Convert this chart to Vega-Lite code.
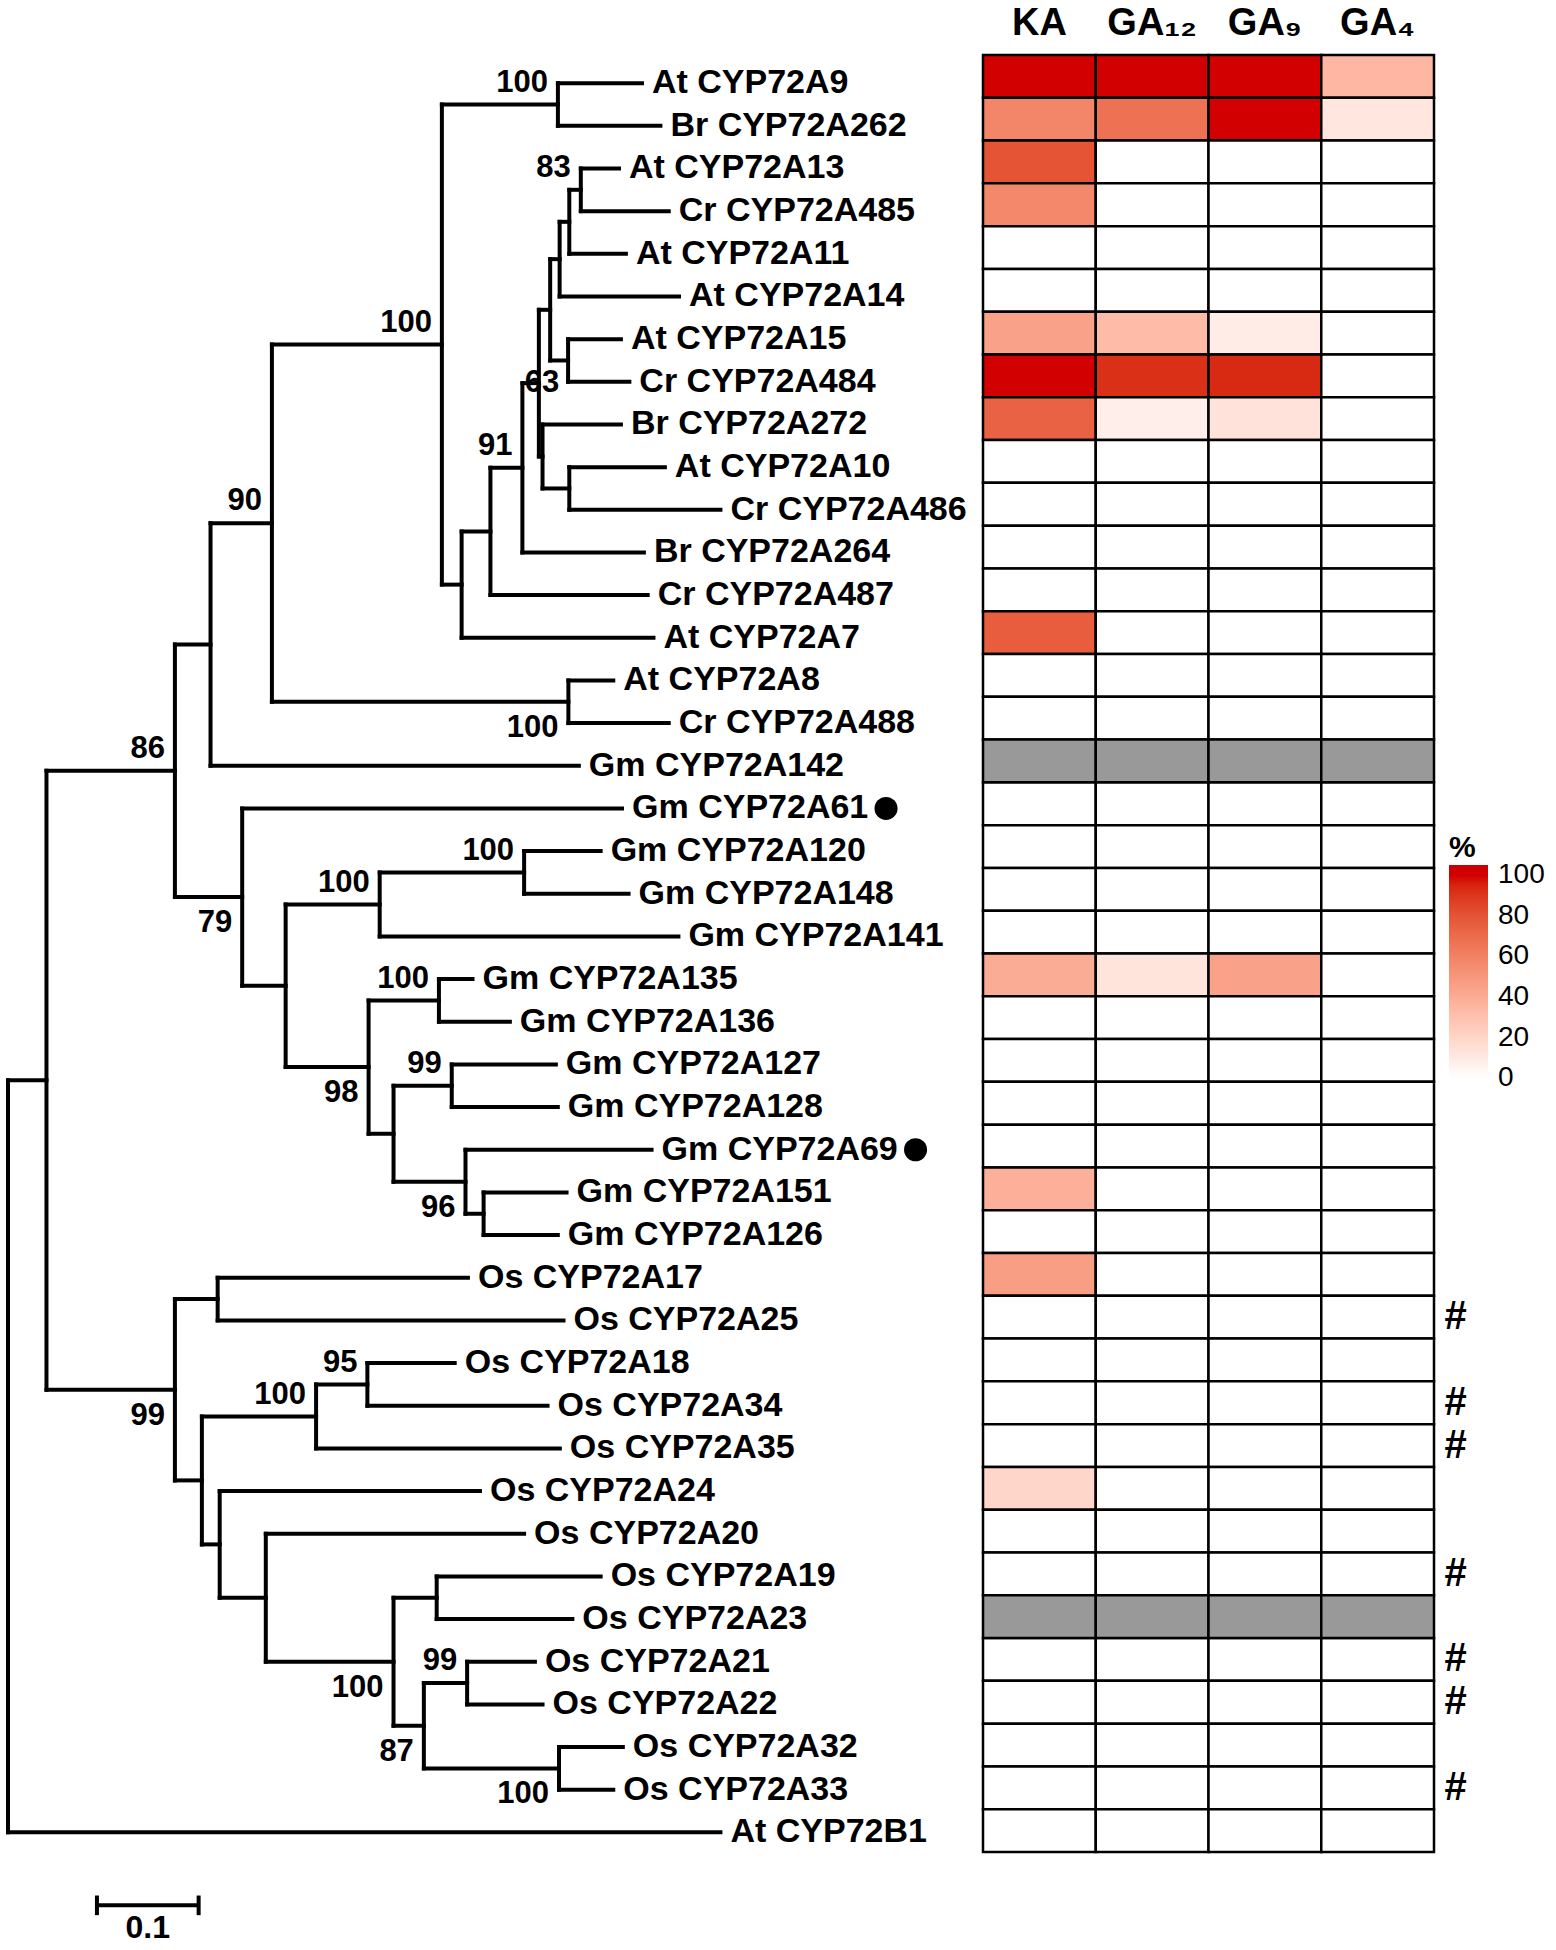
{
"$schema": "https://vega.github.io/schema/vega-lite/v6.json",
"padding": {"left": 5, "top": 4, "right": 0, "bottom": 0},
"autosize": {"type": "pad"},
"bounds": "flush",
"spacing": 59,
"config": {"view": {"stroke": null}, "font": "Liberation Sans"},
"datasets": {
"tree": [
{"n":"At CYP72A9","t":"leaf","x":0.6229,"y":1,"p":"J","px":0.5403},
{"n":"Br CYP72A262","t":"leaf","x":0.6410,"y":2,"p":"J","px":0.5403},
{"n":"At CYP72A13","t":"leaf","x":0.6003,"y":3,"p":"N83","px":0.5628},
{"n":"Cr CYP72A485","t":"leaf","x":0.6492,"y":4,"p":"N83","px":0.5628},
{"n":"At CYP72A11","t":"leaf","x":0.6071,"y":5,"p":"Q","px":0.5515},
{"n":"At CYP72A14","t":"leaf","x":0.6593,"y":6,"p":"S","px":0.5420},
{"n":"At CYP72A15","t":"leaf","x":0.6022,"y":7,"p":"U","px":0.5503},
{"n":"Cr CYP72A484","t":"leaf","x":0.6105,"y":8,"p":"U","px":0.5503},
{"n":"Br CYP72A272","t":"leaf","x":0.6022,"y":9,"p":"V","px":0.5252},
{"n":"At CYP72A10","t":"leaf","x":0.6454,"y":10,"p":"P","px":0.5515},
{"n":"Cr CYP72A486","t":"leaf","x":0.7000,"y":11,"p":"P","px":0.5515},
{"n":"Br CYP72A264","t":"leaf","x":0.6248,"y":12,"p":"M","px":0.5054},
{"n":"Cr CYP72A487","t":"leaf","x":0.6285,"y":13,"p":"L","px":0.4740},
{"n":"At CYP72A7","t":"leaf","x":0.6342,"y":14,"p":"K","px":0.4457},
{"n":"At CYP72A8","t":"leaf","x":0.5947,"y":15,"p":"H","px":0.5506},
{"n":"Cr CYP72A488","t":"leaf","x":0.6492,"y":16,"p":"H","px":0.5506},
{"n":"Gm CYP72A142","t":"leaf","x":0.5609,"y":17,"p":"E","px":0.1990},
{"n":"Gm CYP72A61","t":"leaf","x":0.6033,"y":18,"p":"W","px":0.2301,"dot":1},
{"n":"Gm CYP72A120","t":"leaf","x":0.5823,"y":19,"p":"AA","px":0.5071},
{"n":"Gm CYP72A148","t":"leaf","x":0.6097,"y":20,"p":"AA","px":0.5071},
{"n":"Gm CYP72A141","t":"leaf","x":0.6587,"y":21,"p":"Y","px":0.3652},
{"n":"Gm CYP72A135","t":"leaf","x":0.4564,"y":22,"p":"AB","px":0.4234},
{"n":"Gm CYP72A136","t":"leaf","x":0.4931,"y":23,"p":"AB","px":0.4234},
{"n":"Gm CYP72A127","t":"leaf","x":0.5383,"y":24,"p":"AD","px":0.4360},
{"n":"Gm CYP72A128","t":"leaf","x":0.5402,"y":25,"p":"AD","px":0.4360},
{"n":"Gm CYP72A69","t":"leaf","x":0.6323,"y":26,"p":"AE","px":0.4495,"dot":1},
{"n":"Gm CYP72A151","t":"leaf","x":0.5488,"y":27,"p":"AF","px":0.4673},
{"n":"Gm CYP72A126","t":"leaf","x":0.5402,"y":28,"p":"AF","px":0.4673},
{"n":"Os CYP72A17","t":"leaf","x":0.4519,"y":29,"p":"OS2","px":0.2060},
{"n":"Os CYP72A25","t":"leaf","x":0.5458,"y":30,"p":"OS2","px":0.2060},
{"n":"Os CYP72A18","t":"leaf","x":0.4389,"y":31,"p":"OS6","px":0.3531},
{"n":"Os CYP72A34","t":"leaf","x":0.5301,"y":32,"p":"OS6","px":0.3531},
{"n":"Os CYP72A35","t":"leaf","x":0.5422,"y":33,"p":"OS4","px":0.3027},
{"n":"Os CYP72A24","t":"leaf","x":0.4637,"y":34,"p":"OS5","px":0.2080},
{"n":"Os CYP72A20","t":"leaf","x":0.5071,"y":35,"p":"OS7","px":0.2533},
{"n":"Os CYP72A19","t":"leaf","x":0.5823,"y":36,"p":"OS9","px":0.4212},
{"n":"Os CYP72A23","t":"leaf","x":0.5545,"y":37,"p":"OS9","px":0.4212},
{"n":"Os CYP72A21","t":"leaf","x":0.5177,"y":38,"p":"OS11","px":0.4511},
{"n":"Os CYP72A22","t":"leaf","x":0.5252,"y":39,"p":"OS11","px":0.4511},
{"n":"Os CYP72A32","t":"leaf","x":0.6041,"y":40,"p":"OS12","px":0.5414},
{"n":"Os CYP72A33","t":"leaf","x":0.5947,"y":41,"p":"OS12","px":0.5414},
{"n":"At CYP72B1","t":"leaf","x":0.7000,"y":42,"p":"R","px":0},
{"n":"J","t":"node","x":0.5403,"y":1.5,"p":"G","px":0.4263,"b":"100","bp":"a"},
{"n":"N83","t":"node","x":0.5628,"y":3.5,"p":"Q","px":0.5515,"b":"83","bp":"a"},
{"n":"Q","t":"node","x":0.5515,"y":4.25,"p":"S","px":0.542},
{"n":"S","t":"node","x":0.542,"y":5.125,"p":"T","px":0.5327},
{"n":"U","t":"node","x":0.5503,"y":7.5,"p":"T","px":0.5327},
{"n":"T","t":"node","x":0.5327,"y":6.3125,"p":"N","px":0.5216},
{"n":"P","t":"node","x":0.5515,"y":10.5,"p":"V","px":0.5252},
{"n":"V","t":"node","x":0.5252,"y":9.75,"p":"N","px":0.5216},
{"n":"N","t":"node","x":0.5216,"y":8.0313,"p":"M","px":0.5054,"b":"63","bp":"m"},
{"n":"M","t":"node","x":0.5054,"y":10.0156,"p":"L","px":0.474,"b":"91","bp":"a"},
{"n":"L","t":"node","x":0.474,"y":11.5078,"p":"K","px":0.4457},
{"n":"K","t":"node","x":0.4457,"y":12.7539,"p":"G","px":0.4263},
{"n":"G","t":"node","x":0.4263,"y":7.127,"p":"F","px":0.2593,"b":"100","bp":"a"},
{"n":"H","t":"node","x":0.5506,"y":15.5,"p":"F","px":0.2593,"b":"100","bp":"b"},
{"n":"F","t":"node","x":0.2593,"y":11.3135,"p":"E","px":0.199,"b":"90","bp":"a"},
{"n":"E","t":"node","x":0.199,"y":14.1567,"p":"D","px":0.164},
{"n":"AA","t":"node","x":0.5071,"y":19.5,"p":"Y","px":0.3652,"b":"100","bp":"a"},
{"n":"Y","t":"node","x":0.3652,"y":20.25,"p":"X","px":0.2728,"b":"100","bp":"a"},
{"n":"AB","t":"node","x":0.4234,"y":22.5,"p":"Z","px":0.3543,"b":"100","bp":"a"},
{"n":"AD","t":"node","x":0.436,"y":24.5,"p":"AC","px":0.3788,"b":"99","bp":"a"},
{"n":"AF","t":"node","x":0.4673,"y":27.5,"p":"AE","px":0.4495},
{"n":"AE","t":"node","x":0.4495,"y":26.75,"p":"AC","px":0.3788,"b":"96","bp":"b"},
{"n":"AC","t":"node","x":0.3788,"y":25.625,"p":"Z","px":0.3543},
{"n":"Z","t":"node","x":0.3543,"y":24.0625,"p":"X","px":0.2728,"b":"98","bp":"b"},
{"n":"X","t":"node","x":0.2728,"y":22.1563,"p":"W","px":0.2301},
{"n":"W","t":"node","x":0.2301,"y":20.0781,"p":"D","px":0.164,"b":"79","bp":"b"},
{"n":"D","t":"node","x":0.164,"y":17.1174,"p":"I","px":0.0378,"b":"86","bp":"a"},
{"n":"OS2","t":"node","x":0.206,"y":29.5,"p":"OS1","px":0.164},
{"n":"OS6","t":"node","x":0.3531,"y":31.5,"p":"OS4","px":0.3027,"b":"95","bp":"a"},
{"n":"OS4","t":"node","x":0.3027,"y":32.25,"p":"OS3","px":0.1905,"b":"100","bp":"a"},
{"n":"OS9","t":"node","x":0.4212,"y":36.5,"p":"OS8","px":0.3788},
{"n":"OS11","t":"node","x":0.4511,"y":38.5,"p":"OS10","px":0.4086,"b":"99","bp":"a"},
{"n":"OS12","t":"node","x":0.5414,"y":40.5,"p":"OS10","px":0.4086,"b":"100","bp":"b"},
{"n":"OS10","t":"node","x":0.4086,"y":39.5,"p":"OS8","px":0.3788,"b":"87","bp":"b"},
{"n":"OS8","t":"node","x":0.3788,"y":38,"p":"OS7","px":0.2533,"b":"100","bp":"b"},
{"n":"OS7","t":"node","x":0.2533,"y":36.5,"p":"OS5","px":0.208},
{"n":"OS5","t":"node","x":0.208,"y":35.25,"p":"OS3","px":0.1905},
{"n":"OS3","t":"node","x":0.1905,"y":33.75,"p":"OS1","px":0.164},
{"n":"OS1","t":"node","x":0.164,"y":31.625,"p":"I","px":0.0378,"b":"99","bp":"b"},
{"n":"I","t":"node","x":0.0378,"y":24.3712,"p":"R","px":0}
],
"bar": [{"x":0.0874,"x2":0.1873,"xm":0.13735,"y":43.71,"ya":43.48,"yb":43.94,"label":"0.1"}],
"heat": [
{"i":1,"g":"At CYP72A9","KA":100,"GA₁₂":100,"GA₉":100,"GA₄":35},
{"i":2,"g":"Br CYP72A262","KA":58,"GA₁₂":67,"GA₉":100,"GA₄":12},
{"i":3,"g":"At CYP72A13","KA":80,"GA₁₂":0,"GA₉":0,"GA₄":0},
{"i":4,"g":"Cr CYP72A485","KA":57,"GA₁₂":0,"GA₉":0,"GA₄":0},
{"i":5,"g":"At CYP72A11","KA":0,"GA₁₂":0,"GA₉":0,"GA₄":0},
{"i":6,"g":"At CYP72A14","KA":0,"GA₁₂":0,"GA₉":0,"GA₄":0},
{"i":7,"g":"At CYP72A15","KA":45,"GA₁₂":33,"GA₉":9,"GA₄":0},
{"i":8,"g":"Cr CYP72A484","KA":100,"GA₁₂":92,"GA₉":94,"GA₄":0},
{"i":9,"g":"Br CYP72A272","KA":74,"GA₁₂":8,"GA₉":14,"GA₄":0},
{"i":10,"g":"At CYP72A10","KA":0,"GA₁₂":0,"GA₉":0,"GA₄":0},
{"i":11,"g":"Cr CYP72A486","KA":0,"GA₁₂":0,"GA₉":0,"GA₄":0},
{"i":12,"g":"Br CYP72A264","KA":0,"GA₁₂":0,"GA₉":0,"GA₄":0},
{"i":13,"g":"Cr CYP72A487","KA":0,"GA₁₂":0,"GA₉":0,"GA₄":0},
{"i":14,"g":"At CYP72A7","KA":76,"GA₁₂":0,"GA₉":0,"GA₄":0},
{"i":15,"g":"At CYP72A8","KA":0,"GA₁₂":0,"GA₉":0,"GA₄":0},
{"i":16,"g":"Cr CYP72A488","KA":0,"GA₁₂":0,"GA₉":0,"GA₄":0},
{"i":17,"g":"Gm CYP72A142","KA":null,"GA₁₂":null,"GA₉":null,"GA₄":null},
{"i":18,"g":"Gm CYP72A61","KA":0,"GA₁₂":0,"GA₉":0,"GA₄":0},
{"i":19,"g":"Gm CYP72A120","KA":0,"GA₁₂":0,"GA₉":0,"GA₄":0},
{"i":20,"g":"Gm CYP72A148","KA":0,"GA₁₂":0,"GA₉":0,"GA₄":0},
{"i":21,"g":"Gm CYP72A141","KA":0,"GA₁₂":0,"GA₉":0,"GA₄":0},
{"i":22,"g":"Gm CYP72A135","KA":40,"GA₁₂":13,"GA₉":45,"GA₄":0},
{"i":23,"g":"Gm CYP72A136","KA":0,"GA₁₂":0,"GA₉":0,"GA₄":0},
{"i":24,"g":"Gm CYP72A127","KA":0,"GA₁₂":0,"GA₉":0,"GA₄":0},
{"i":25,"g":"Gm CYP72A128","KA":0,"GA₁₂":0,"GA₉":0,"GA₄":0},
{"i":26,"g":"Gm CYP72A69","KA":0,"GA₁₂":0,"GA₉":0,"GA₄":0},
{"i":27,"g":"Gm CYP72A151","KA":38,"GA₁₂":0,"GA₉":0,"GA₄":0},
{"i":28,"g":"Gm CYP72A126","KA":0,"GA₁₂":0,"GA₉":0,"GA₄":0},
{"i":29,"g":"Os CYP72A17","KA":47,"GA₁₂":0,"GA₉":0,"GA₄":0},
{"i":30,"g":"Os CYP72A25","KA":0,"GA₁₂":0,"GA₉":0,"GA₄":0,"note":"#"},
{"i":31,"g":"Os CYP72A18","KA":0,"GA₁₂":0,"GA₉":0,"GA₄":0},
{"i":32,"g":"Os CYP72A34","KA":0,"GA₁₂":0,"GA₉":0,"GA₄":0,"note":"#"},
{"i":33,"g":"Os CYP72A35","KA":0,"GA₁₂":0,"GA₉":0,"GA₄":0,"note":"#"},
{"i":34,"g":"Os CYP72A24","KA":20,"GA₁₂":0,"GA₉":0,"GA₄":0},
{"i":35,"g":"Os CYP72A20","KA":0,"GA₁₂":0,"GA₉":0,"GA₄":0},
{"i":36,"g":"Os CYP72A19","KA":0,"GA₁₂":0,"GA₉":0,"GA₄":0,"note":"#"},
{"i":37,"g":"Os CYP72A23","KA":null,"GA₁₂":null,"GA₉":null,"GA₄":null},
{"i":38,"g":"Os CYP72A21","KA":0,"GA₁₂":0,"GA₉":0,"GA₄":0,"note":"#"},
{"i":39,"g":"Os CYP72A22","KA":0,"GA₁₂":0,"GA₉":0,"GA₄":0,"note":"#"},
{"i":40,"g":"Os CYP72A32","KA":0,"GA₁₂":0,"GA₉":0,"GA₄":0},
{"i":41,"g":"Os CYP72A33","KA":0,"GA₁₂":0,"GA₉":0,"GA₄":0,"note":"#"},
{"i":42,"g":"At CYP72B1","KA":0,"GA₁₂":0,"GA₉":0,"GA₄":0}
]
},
"hconcat": [
{
"width": 916,
"height": 1797,
"data": {"name": "tree"},
"layer": [
{
"transform": [{"filter": "datum.p != null"}],
"mark": {"type": "rule", "strokeWidth": 4, "color": "black", "strokeCap": "square"},
"encoding": {
"x": {"field": "px", "type": "quantitative", "scale": {"domain": [0, 0.9], "nice": false, "zero": false}, "axis": null},
"x2": {"field": "x"},
"y": {"field": "y", "type": "quantitative", "scale": {"domain": [0.34, 42.46], "reverse": true, "nice": false, "zero": false}, "axis": null}
}
},
{
"transform": [{"filter": "datum.p != null"}, {"aggregate": [{"op": "min", "field": "y", "as": "y1"}, {"op": "max", "field": "y", "as": "y2"}], "groupby": ["p", "px"]}],
"mark": {"type": "rule", "strokeWidth": 4, "color": "black", "strokeCap": "square"},
"encoding": {
"x": {"field": "px", "type": "quantitative", "axis": null},
"y": {"field": "y1", "type": "quantitative", "axis": null},
"y2": {"field": "y2"}
}
},
{
"transform": [{"filter": "datum.t === 'leaf'"}],
"mark": {"type": "text", "align": "left", "baseline": "middle", "dx": 10, "fontSize": 34, "fontWeight": "bold", "font": "Liberation Sans", "color": "black"},
"encoding": {
"x": {"field": "x", "type": "quantitative", "axis": null},
"y": {"field": "y", "type": "quantitative", "axis": null},
"text": {"field": "n"}
}
},
{
"transform": [{"filter": "datum.bp === 'a'"}],
"mark": {"type": "text", "align": "right", "baseline": "alphabetic", "dx": -10, "dy": -12.7, "fontSize": 31, "fontWeight": "bold", "font": "Liberation Sans Narrow, Liberation Sans", "color": "black"},
"encoding": {
"x": {"field": "x", "type": "quantitative", "axis": null},
"y": {"field": "y", "type": "quantitative", "axis": null},
"text": {"field": "b"}
}
},
{
"transform": [{"filter": "datum.bp === 'b'"}],
"mark": {"type": "text", "align": "right", "baseline": "alphabetic", "dx": -10, "dy": 35, "fontSize": 31, "fontWeight": "bold", "font": "Liberation Sans Narrow, Liberation Sans", "color": "black"},
"encoding": {
"x": {"field": "x", "type": "quantitative", "axis": null},
"y": {"field": "y", "type": "quantitative", "axis": null},
"text": {"field": "b"}
}
},
{
"transform": [{"filter": "datum.bp === 'm'"}],
"mark": {"type": "text", "align": "center", "baseline": "middle", "dx": 3, "fontSize": 31, "fontWeight": "bold", "font": "Liberation Sans Narrow, Liberation Sans", "color": "black"},
"encoding": {
"x": {"field": "x", "type": "quantitative", "axis": null},
"y": {"field": "y", "type": "quantitative", "axis": null},
"text": {"field": "b"}
}
},
{
"transform": [{"filter": "datum.dot === 1"}],
"mark": {"type": "circle", "size": 531, "opacity": 1, "color": "black", "xOffset": 264},
"encoding": {
"x": {"field": "x", "type": "quantitative", "axis": null},
"y": {"field": "y", "type": "quantitative", "axis": null}
}
},
{
"data": {"name": "bar"},
"mark": {"type": "rule", "strokeWidth": 4, "color": "black"},
"encoding": {
"x": {"field": "x", "type": "quantitative", "axis": null},
"x2": {"field": "x2"},
"y": {"field": "y", "type": "quantitative", "axis": null}
}
},
{
"data": {"name": "bar"},
"mark": {"type": "rule", "strokeWidth": 4, "color": "black"},
"encoding": {
"x": {"field": "x", "type": "quantitative", "axis": null},
"y": {"field": "ya", "type": "quantitative", "axis": null},
"y2": {"field": "yb"}
}
},
{
"data": {"name": "bar"},
"mark": {"type": "rule", "strokeWidth": 4, "color": "black"},
"encoding": {
"x": {"field": "x2", "type": "quantitative", "axis": null},
"y": {"field": "ya", "type": "quantitative", "axis": null},
"y2": {"field": "yb"}
}
},
{
"data": {"name": "bar"},
"mark": {"type": "text", "align": "center", "baseline": "top", "dy": 8, "fontSize": 32, "fontWeight": "bold", "font": "Liberation Sans", "color": "black"},
"encoding": {
"x": {"field": "xm", "type": "quantitative", "axis": null},
"y": {"field": "y", "type": "quantitative", "axis": null},
"text": {"field": "label"}
}
}
]
},
{
"width": 451,
"height": 1797,
"data": {"name": "heat"},
"transform": [{"fold": ["KA", "GA₁₂", "GA₉", "GA₄"], "as": ["s", "v"]}],
"encoding": {
"x": {"field": "s", "type": "nominal", "sort": ["KA", "GA₁₂", "GA₉", "GA₄"], "scale": {"paddingInner": 0, "paddingOuter": 0},
"axis": {"orient": "top", "title": null, "ticks": false, "domain": false, "labelAngle": 0, "labelFontSize": 38, "labelFontWeight": "bold", "labelColor": "black", "labelPadding": 21, "labelBaseline": "alphabetic", "labelFont": "Liberation Sans"}},
"y": {"field": "g", "type": "nominal", "sort": {"field": "i", "op": "min"}, "scale": {"paddingInner": 0, "paddingOuter": 0}, "axis": null}
},
"layer": [
{
"transform": [{"filter": "isValid(datum.v)"}],
"mark": {"type": "rect", "stroke": "black", "strokeWidth": 2.5},
"encoding": {
"color": {"field": "v", "type": "quantitative",
"scale": {"domain": [-1, 0, 100, 105], "range": ["#ffffff", "#ffffff", "#d20000", "#c80000"], "interpolate": "lab"},
"legend": {"title": "%", "orient": "none", "legendX": 1441, "legendY": 778, "direction": "vertical", "gradientLength": 215.5, "gradientThickness": 39, "values": [0, 20, 40, 60, 80, 100], "labelOverlap": false, "labelFontSize": 28, "labelFont": "Liberation Sans", "labelColor": "black", "labelOffset": 10, "titleFontSize": 30, "titleFont": "Liberation Sans", "titleFontWeight": "bold", "titleColor": "black", "titlePadding": 2, "gradientStrokeWidth": 0, "labelBaseline": "middle"}}
}
},
{
"transform": [{"filter": "!isValid(datum.v)"}],
"mark": {"type": "rect", "fill": "#999999", "stroke": "black", "strokeWidth": 2.5}
},
{
"transform": [{"filter": "datum.s === 'GA₄' && datum.note === '#'"}],
"mark": {"type": "text", "text": "#", "dx": 78, "fontSize": 40, "fontWeight": "bold", "baseline": "middle", "align": "center", "font": "Liberation Sans", "color": "black"}
}
]
}
]
}
